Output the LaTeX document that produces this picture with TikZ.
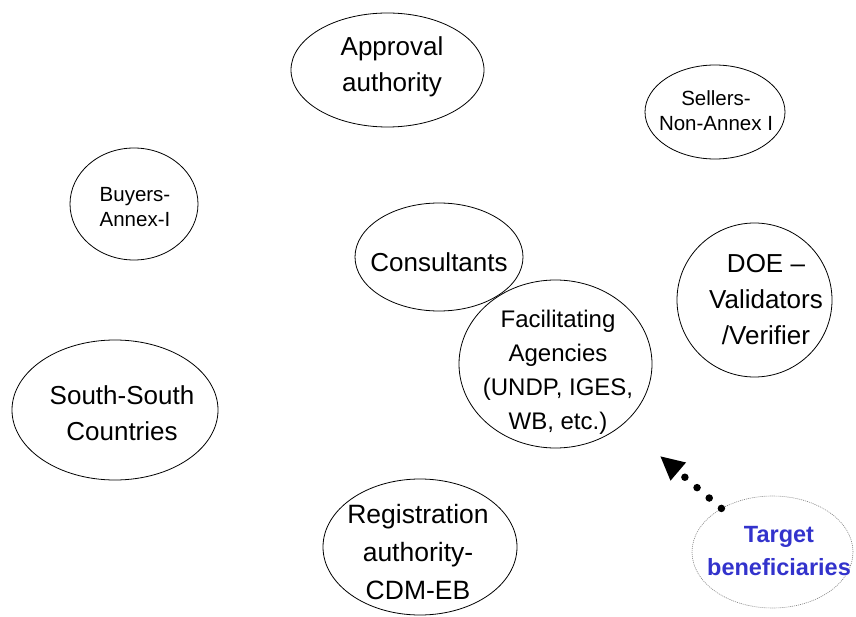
\documentclass[tikz,border=0pt]{standalone}
\usepackage{fontspec}
\setmainfont{Liberation Sans}
\usetikzlibrary{shapes.geometric,arrows.meta}
\definecolor{tbblue}{RGB}{51,51,204}
\tikzset{
  bubble/.style={ellipse, draw=black, line width=0.8pt, fill=white, inner sep=0pt},
  bigtxt/.style={align=center, font=\fontsize{26}{36}\selectfont, inner sep=0pt},
  smalltxt/.style={align=center, font=\fontsize{20.5}{25}\selectfont, inner sep=0pt},
  tbbubble/.style={ellipse, draw=gray, line width=0.6pt, dash pattern=on 1pt off 1pt, inner sep=0pt},
  tbtxt/.style={align=center, text=tbblue, font=\fontsize{23.5}{33}\selectfont\bfseries, inner sep=0pt},
  dotarrow/.style={line width=7.5pt, line cap=round, dash pattern=on 0pt off 16pt,
    -{Triangle[length=24pt,width=22pt]}}
}
\begin{document}
\begin{tikzpicture}[x=1pt,y=-1pt]
\useasboundingbox (0,0) rectangle (856,617);
% ellipses
\node[bubble, minimum width=193pt, minimum height=114pt] (appr) at (387.5,70) {};
\node[bigtxt] (apprT) at (392,67) {Approval\\authority};

\node[bubble, minimum width=140pt, minimum height=94pt] (sell) at (715,112) {};
\node[smalltxt] (sellT) at (716,111) {Sellers-\\Non-Annex I};

\node[bubble, minimum width=128pt, minimum height=112pt] (buy) at (134,204) {};
\node[smalltxt] (buyT) at (135,207) {Buyers-\\Annex-I};

\node[bubble, minimum width=168pt, minimum height=108pt] (cons) at (439,257) {};
\node[bigtxt] (consT) at (439,262) {Consultants};

\node[bubble, minimum width=155pt, minimum height=154pt] (doe) at (754.5,300) {};
\node[bigtxt] (doeT) at (766,300) {DOE --\\Validators\\/Verifier};

\node[bubble, minimum width=193pt, minimum height=168pt] (fac) at (555.5,364) {};
\node[font=\fontsize{24}{34}\selectfont, align=center, inner sep=0pt] (facT) at (558,372) {Facilitating\\Agencies\\(UNDP, IGES,\\WB, etc.)};

\node[bubble, minimum width=206pt, minimum height=140pt] (ss) at (115,410) {};
\node[bigtxt] (ssT) at (122,413) {South-South\\Countries};

\node[bubble, minimum width=194pt, minimum height=136pt] (reg) at (420,547) {};
\node[bigtxt, font=\fontsize{26.5}{38}\selectfont] (regT) at (418,552) {Registration\\authority-\\CDM-EB};

\node[tbbubble, minimum width=161pt, minimum height=112pt] (tb) at (772.5,552) {};
\node[tbtxt] (tbT) at (779,551) {Target\\beneficiaries};

\coordinate (tip) at (660,456);
\draw[dotarrow] (tb) -- (tip);
\end{tikzpicture}
\end{document}
